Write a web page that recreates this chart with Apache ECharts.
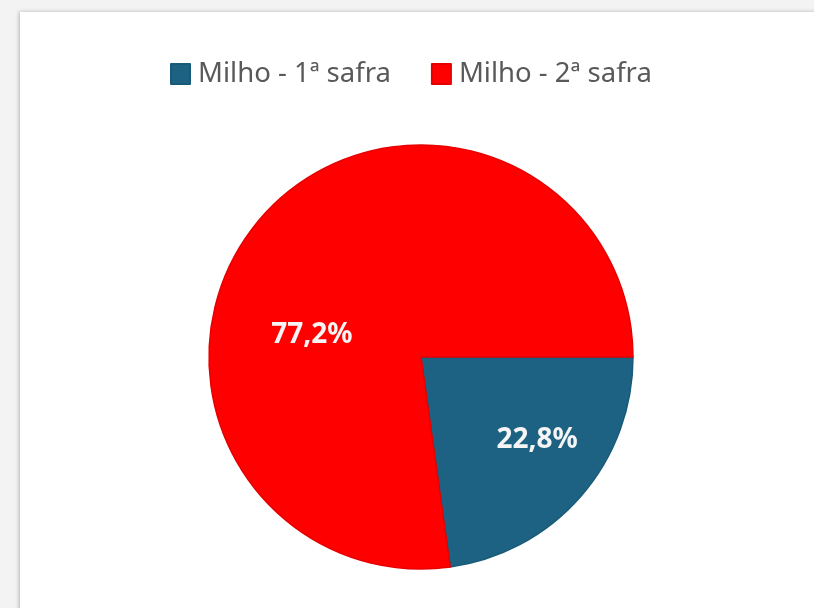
<!DOCTYPE html>
<html>
<head>
<meta charset="utf-8">
<script src="https://cdn.jsdelivr.net/npm/echarts@6/dist/echarts.min.js"></script>
<style>
html,body{margin:0;padding:0;background:#f3f3f3;}
#chart{width:814px;height:608px;}
</style>
</head>
<body>
<div id="chart"></div>
<script>
const categories = ['Milho - 1ª safra', 'Milho - 2ª safra'];
const values = [22.8, 77.2];
const colors = ['#1d6282', '#ff0000'];
const borderColors = ['#195a78', '#e60000'];
const labelOffsets = [[34, 11], [-27, 50]];

const chart = echarts.init(document.getElementById('chart'));
chart.setOption({
  backgroundColor: '#f3f3f3',
  animation: false,
  graphic: [{
    type: 'rect',
    shape: { x: 20, y: 12, width: 820, height: 620 },
    style: { fill: '#ffffff', shadowBlur: 4, shadowColor: 'rgba(0,0,0,0.25)', shadowOffsetX: -1, shadowOffsetY: 0 },
    z: -10
  }],
  legend: {
    top: 55,
    left: 165,
    itemWidth: 19,
    itemHeight: 20,
    itemGap: 40,
    icon: 'rect',
    textStyle: { fontFamily: 'Noto Sans', fontSize: 27.5, color: '#595959', padding: [0, 0, 0, 3] },
    data: categories
  },
  series: [{
    type: 'pie',
    center: [421, 357],
    radius: 212,
    startAngle: 0,
    clockwise: true,
    label: {
      show: true,
      position: 'inside',
      fontFamily: 'Noto Sans',
      fontWeight: 'bold',
      fontSize: 28,
      color: '#f5f5f5',
      formatter: p => p.value.toFixed(1).replace('.', ',') + '%'
    },
    labelLine: { show: false },
    emphasis: { disabled: true },
    data: categories.map((c, i) => ({
      name: c,
      value: values[i],
      itemStyle: { color: colors[i], borderColor: borderColors[i], borderWidth: 1.5 },
      label: { offset: labelOffsets[i] }
    }))
  }]
});
</script>
</body>
</html>
